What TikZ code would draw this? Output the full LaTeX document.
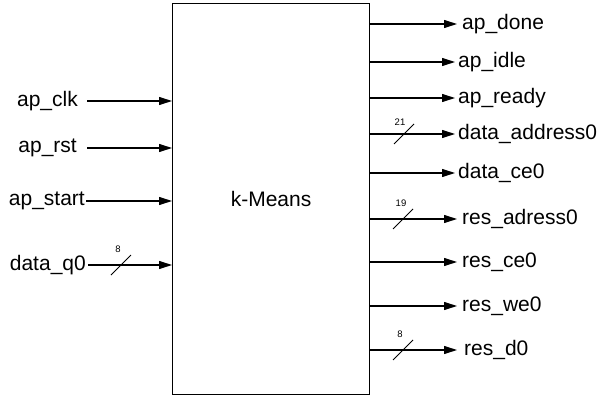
\documentclass[tikz,border=0pt]{standalone}
\usepackage{fontspec}
\setmainfont{Liberation Sans}
\usetikzlibrary{arrows.meta}

\begin{document}
\begin{tikzpicture}[x=1pt,y=-1pt,
  sig/.style={line width=1.1pt, -{Triangle[length=13pt,width=8pt]}},
  lbl/.style={font=\fontsize{21}{25}\selectfont, inner sep=0pt},
  buswidth/.style={font=\fontsize{9.5}{11}\selectfont, inner sep=0pt},
  buscut/.style={line width=0.9pt}]
\useasboundingbox (0,0) rectangle (603,396);

% main block
\node[draw, line width=1.1pt, minimum width=197pt, minimum height=391pt,
      inner sep=0pt, anchor=north west, lbl] (km) at (172,3) {k-Means};

% inputs
\node[lbl, anchor=east] (i1) at (78,101) {ap\_clk};
\node[lbl, anchor=east] (i2) at (77,148) {ap\_rst};
\node[lbl, anchor=east] (i3) at (85,201) {ap\_start};
\node[lbl, anchor=east] (i4) at (86,265) {data\_q0};
\draw[sig] ([xshift=9pt]i1.east) -- (i1 -| km.west);
\draw[sig] ([xshift=10pt]i2.east) -- (i2 -| km.west);
\draw[sig] ([xshift=1pt]i3.east) -- (i3 -| km.west);
\draw[sig] ([xshift=2pt]i4.east) -- (i4 -| km.west);

% outputs
\node[lbl, anchor=west] (o1) at (462,24) {ap\_done};
\node[lbl, anchor=west] (o2) at (458,62) {ap\_idle};
\node[lbl, anchor=west] (o3) at (458,98) {ap\_ready};
\node[lbl, anchor=west] (o4) at (458,134) {data\_address0};
\node[lbl, anchor=west] (o5) at (458,173) {data\_ce0};
\node[lbl, anchor=west] (o6) at (462,219) {res\_adress0};
\node[lbl, anchor=west] (o7) at (462,262) {res\_ce0};
\node[lbl, anchor=west] (o8) at (462,306) {res\_we0};
\node[lbl, anchor=west] (o9) at (464,350) {res\_d0};
\draw[sig] (o1 -| km.east) -- ([xshift=-5pt]o1.west);
\draw[sig] (o2 -| km.east) -- ([xshift=-3pt]o2.west);
\draw[sig] (o3 -| km.east) -- ([xshift=-3pt]o3.west);
\draw[sig] (o4 -| km.east) -- ([xshift=-3pt]o4.west);
\draw[sig] (o5 -| km.east) -- ([xshift=-3pt]o5.west);
\draw[sig] (o6 -| km.east) -- ([xshift=-5pt]o6.west);
\draw[sig] (o7 -| km.east) -- ([xshift=-5pt]o7.west);
\draw[sig] (o8 -| km.east) -- ([xshift=-5pt]o8.west);
\draw[sig] (o9 -| km.east) -- ([xshift=-7pt]o9.west);

% bus width marks
\coordinate (b1) at (121,265);
\coordinate (b2) at (404,134);
\coordinate (b3) at (403,219);
\coordinate (b4) at (403,350);
\foreach \b in {b1,b2,b3,b4}
  \draw[buscut] ([shift={(-10,10)}]\b) -- ([shift={(10,-10)}]\b);
\node[buswidth] (w1) at (118,249) {8};
\node[buswidth] (w2) at (400,122) {21};
\node[buswidth] (w3) at (401,203) {19};
\node[buswidth] (w4) at (400,334) {8};
\end{tikzpicture}
\end{document}
